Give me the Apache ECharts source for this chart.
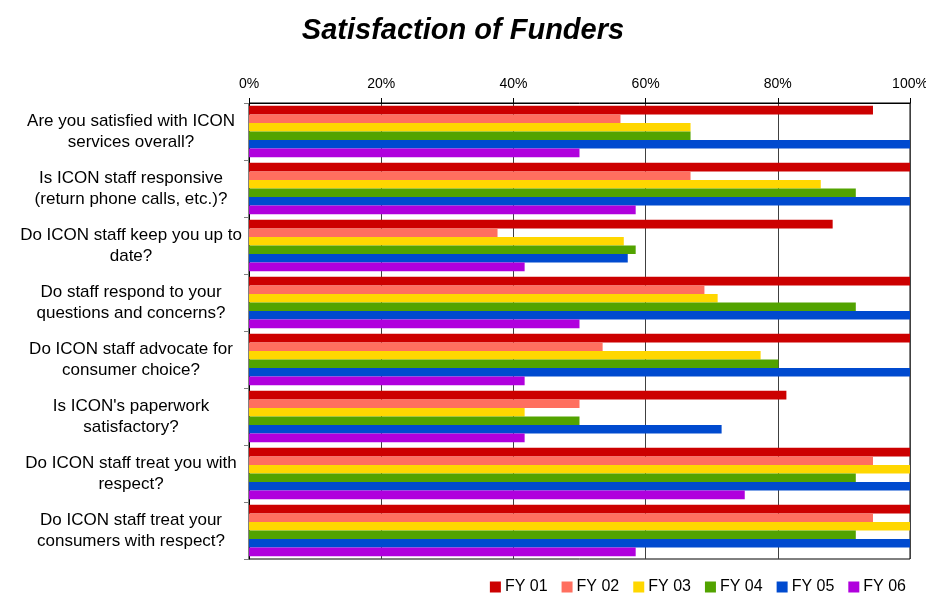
<!DOCTYPE html>
<html>
<head>
<meta charset="utf-8">
<script src="https://cdn.jsdelivr.net/npm/echarts@6/dist/echarts.min.js"></script>
<style>html,body{margin:0;padding:0;background:#fff}#c{width:926px;height:597px}</style>
</head>
<body>
<div id="c"></div>
<script>
const categories = [
  "Are you satisfied with ICON\nservices overall?",
  "Is ICON staff responsive\n(return phone calls, etc.)?",
  "Do ICON staff keep you up to\ndate?",
  "Do staff respond to your\nquestions and concerns?",
  "Do ICON staff advocate for\nconsumer choice?",
  "Is ICON's paperwork\nsatisfactory?",
  "Do ICON staff treat you with\nrespect?",
  "Do ICON staff treat your\nconsumers with respect?"
];
const seriesNames = ["FY 01", "FY 02", "FY 03", "FY 04", "FY 05", "FY 06"];
const fy01 = [94.4, 100, 88.3, 100, 100, 81.3, 100, 100];
const fy02 = [56.2, 66.8, 37.6, 68.9, 53.5, 50.0, 94.4, 94.4];
const fy03 = [66.8, 86.5, 56.7, 70.9, 77.4, 41.7, 100, 100];
const fy04 = [66.8, 91.8, 58.5, 91.8, 80.1, 50.0, 91.8, 91.8];
const fy05 = [100, 100, 57.3, 100, 100, 71.5, 100, 100];
const fy06 = [50.0, 58.5, 41.7, 50.0, 41.7, 41.7, 75.0, 58.5];
const xTicks = [0, 20, 40, 60, 80, 100];

const values = [fy01, fy02, fy03, fy04, fy05, fy06];
const colors = ["#CC0000", "#FF6F5F", "#FFD700", "#52A300", "#004ACF", "#B000DD"];

const chart = echarts.init(document.getElementById('c'));
chart.setOption({
  animation: false,
  color: colors,
  textStyle: { fontFamily: 'Liberation Sans, Arial, sans-serif' },
  title: {
    text: 'Satisfaction of Funders',
    left: 'center', top: 11,
    textStyle: { fontSize: 29, fontWeight: 'bold', fontStyle: 'italic', color: '#000', fontFamily: 'Liberation Sans, Arial, sans-serif' }
  },
  legend: {
    data: seriesNames,
    right: 15, top: 574,
    itemWidth: 11, itemHeight: 11, itemGap: 14,
    icon: 'rect',
    textStyle: { fontSize: 16, color: '#000', padding: [0, 0, 0, -1] }
  },
  grid: {
    left: 249, right: 16, top: 103, bottom: 38,
    outerBoundsMode: 'none', containLabel: false,
    show: true, borderColor: '#000', borderWidth: 1
  },
  xAxis: {
    type: 'value', position: 'top', min: 0, max: 100, interval: 20, z: 0,
    axisLine: { show: true, lineStyle: { color: '#000', width: 1 } },
    axisTick: { show: true, length: 5, lineStyle: { color: '#000' } },
    axisLabel: { formatter: v => xTicks.includes(v) ? v + '%' : '', fontSize: 14, color: '#000', margin: 12 },
    splitLine: { show: true, lineStyle: { color: '#404040', width: 1 } }
  },
  yAxis: {
    type: 'category', data: categories, inverse: true, z: 0,
    axisLine: { show: true, lineStyle: { color: '#000', width: 1 } },
    axisTick: { show: true, length: 5, lineStyle: { color: '#808080' } },
    axisLabel: { fontSize: 17, color: '#000', align: 'center', margin: 118, lineHeight: 21 }
  },
  series: seriesNames.map((n, i) => ({
    name: n, type: 'bar', data: values[i], z: 10,
    barGap: '0%', barCategoryGap: '10%'
  }))
});
</script>
</body>
</html>
